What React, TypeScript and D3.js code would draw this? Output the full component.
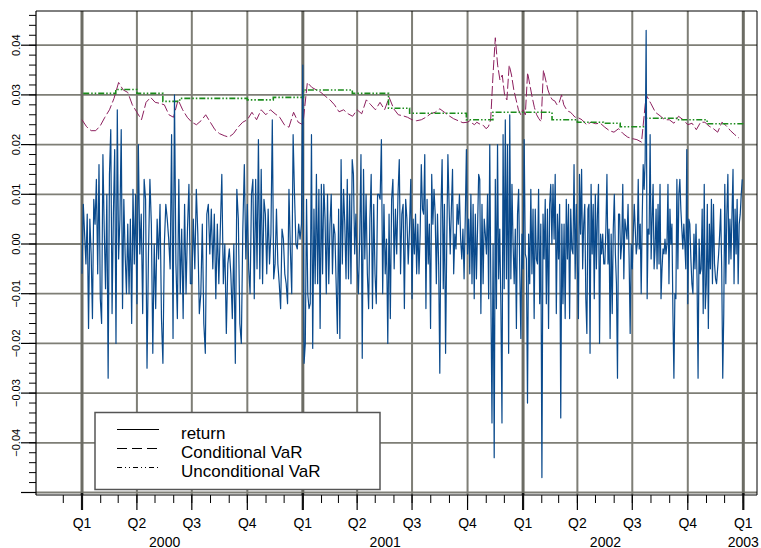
import React from "react";
import * as d3 from "d3";

// ---------- DATA ----------
// daily returns, grouped by quarter (values spread evenly inside each quarter)
const r2000q1 = [-0.006, 0.008, 0.002, -0.004, 0.006, -0.017, 0.005, -0.002, -0.015, 0.009, 0.004, 0.013, -0.006, 0.016, -0.011, -0.016, 0.018, 0.003, -0.009, 0.010, -0.027, 0.014, 0.023, -0.014, 0.006, 0.019, -0.020, 0.027, -0.003, 0.005, 0.023, -0.013, 0.009, -0.002, -0.010, 0.004, -0.010, 0.005, -0.016, 0.011, -0.004, 0.010];
const r2000q2 = [-0.012, 0.020, -0.002, 0.006, -0.014, 0.013, 0.009, -0.025, -0.002, 0.013, 0.004, -0.022, 0.000, -0.013, 0.005, -0.003, 0.008, -0.015, -0.024, 0.000, 0.008, 0.005, 0.001, -0.005, 0.022, -0.019, 0.030, -0.004, -0.015, 0.013, -0.010, 0.003, -0.015, 0.008, -0.010, 0.003, 0.012, -0.008];
const r2000q3 = [-0.008, 0.005, -0.005, 0.011, 0.002, -0.014, -0.010, 0.004, -0.016, -0.022, 0.006, 0.008, -0.002, 0.007, -0.005, 0.006, -0.011, 0.004, -0.008, 0.003, 0.014, -0.008, 0.000, -0.018, -0.004, -0.001, -0.006, -0.015, 0.000, -0.024, 0.011, 0.005, -0.016, -0.020, 0.003, 0.016, -0.003];
const r2000q4 = [0.008, -0.005, -0.010, 0.010, 0.013, -0.011, 0.013, -0.005, 0.021, -0.007, 0.015, -0.008, 0.009, 0.006, -0.006, 0.007, -0.004, 0.002, 0.025, -0.007, -0.004, 0.007, -0.004, -0.008, -0.013, 0.003, 0.001, -0.006, -0.008, -0.012, 0.011, -0.001, -0.010, 0.022, 0.010, 0.000, -0.001, 0.004, 0.001, 0.004];
const r2001q1 = [0.036, -0.024, -0.020, 0.009, -0.010, -0.013, -0.012, 0.022, -0.021, 0.007, -0.008, 0.014, -0.008, 0.011, -0.017, 0.012, -0.006, 0.012, 0.005, -0.010, 0.010, -0.008, 0.004, 0.010, -0.006, 0.004, 0.002, -0.008, -0.018, 0.007, -0.019, 0.017, -0.004, 0.011, 0.004, -0.007, 0.013, -0.007, 0.010, -0.008, 0.017, 0.014, -0.002, 0.006];
const r2001q2 = [-0.004, -0.010, 0.001, 0.018, -0.023, 0.015, -0.003, 0.010, -0.006, -0.013, 0.005, 0.014, -0.013, 0.008, -0.006, -0.012, 0.010, 0.010, 0.009, 0.021, -0.010, 0.008, -0.006, 0.001, -0.020, 0.006, -0.015, 0.009, 0.013, -0.005, 0.007, -0.002, 0.010, 0.017, -0.006, 0.006, 0.008, -0.013, 0.009, 0.005, -0.004, 0.003, 0.013];
const r2001q3 = [-0.011, 0.005, -0.002, 0.006, -0.006, 0.004, -0.006, 0.002, 0.016, 0.007, 0.006, 0.018, -0.013, 0.009, -0.004, 0.004, -0.017, 0.014, 0.004, 0.011, 0.006, -0.008, 0.006, -0.004, -0.026, 0.007, 0.017, -0.009, 0.008, -0.022, 0.000, 0.018, 0.008, -0.002, 0.007, 0.015, -0.006, 0.002, -0.001, 0.008, 0.004, 0.010, 0.001, -0.003, 0.003, -0.007, 0.005, 0.019];
const r2001q4 = [-0.002, 0.005, -0.006, 0.010, -0.008, 0.008, -0.011, 0.006, -0.007, 0.003, 0.014, 0.013, -0.014, 0.008, -0.008, 0.005, 0.002, -0.002, 0.010, -0.011, 0.020, -0.010, -0.036, 0.000, -0.043, 0.013, -0.013, 0.020, -0.007, 0.003, -0.012, -0.036, 0.022, -0.009, 0.025, -0.007, 0.020, -0.022, 0.026, -0.007, 0.012, 0.000, -0.008, 0.003, -0.017, 0.006, 0.011, -0.005, -0.019, 0.002];
const r2002q1 = [-0.005, 0.021, -0.002, -0.003, -0.032, 0.002, -0.008, 0.011, -0.006, 0.007, -0.015, 0.007, -0.003, -0.004, 0.011, -0.012, 0.004, -0.047, 0.006, -0.003, 0.009, -0.012, 0.007, -0.017, 0.008, 0.012, 0.000, 0.012, 0.001, 0.014, -0.014, 0.006, -0.003, 0.008, -0.035, 0.004, -0.012, 0.004, -0.015, 0.009, -0.003, 0.008, -0.015, 0.007, -0.001, -0.002, 0.016, -0.007, 0.008];
const r2002q2 = [-0.004, -0.015, 0.014, 0.002, 0.015, -0.005, 0.004, 0.008, -0.011, -0.018, 0.007, 0.008, -0.022, 0.012, -0.002, 0.008, -0.011, 0.010, -0.005, 0.006, 0.012, -0.020, 0.002, -0.002, 0.002, -0.004, -0.004, 0.003, 0.014, -0.004, 0.003, -0.019, 0.002, -0.014, 0.003, 0.010, -0.002, -0.008, -0.027, 0.006, 0.006, -0.003, 0.000, 0.012, -0.007, 0.005, 0.003, 0.001, 0.008, -0.003, -0.018, 0.000];
const r2002q3 = [-0.005, 0.002, 0.008, 0.003, -0.002, 0.000, 0.013, -0.001, 0.004, -0.010, 0.005, 0.016, 0.011, 0.017, 0.043, -0.011, 0.003, 0.002, 0.022, -0.003, 0.005, 0.012, -0.005, -0.001, 0.007, -0.005, 0.008, -0.004, 0.012, -0.011, -0.005, -0.001, -0.002, 0.001, -0.002, 0.000, 0.012, -0.008, 0.007, 0.000, 0.004, -0.014, -0.027, -0.010, -0.011, 0.013, -0.005, 0.010, 0.013, 0.007, 0.003, -0.001, 0.004, 0.000, -0.005, 0.019];
const r2002q4 = [-0.012, 0.005, 0.004, -0.003, -0.008, -0.010, 0.002, -0.005, 0.004, -0.007, -0.027, 0.001, -0.006, -0.005, 0.007, -0.014, 0.012, -0.013, -0.008, 0.008, -0.017, 0.004, -0.005, 0.009, -0.008, 0.008, -0.004, -0.007, -0.008, -0.005, -0.002, 0.002, 0.007, -0.005, -0.027, -0.014, 0.012, -0.008, 0.006, 0.014, -0.004, 0.005, -0.003, 0.006, 0.015, -0.008, 0.007, -0.002, 0.009, -0.008, 0.004, 0.006, 0.010, 0.013];

// conditional VaR, grouped by quarter
const c2000q1 = [0.0250, 0.0236, 0.0228, 0.0228, 0.0238, 0.0255, 0.0270, 0.0293, 0.0325, 0.0310, 0.0305, 0.0280];
const c2000q2 = [0.0265, 0.0250, 0.0285, 0.0295, 0.0285, 0.0283, 0.0280, 0.0260, 0.0255, 0.0290, 0.0270, 0.0255];
const c2000q3 = [0.0245, 0.0240, 0.0248, 0.0260, 0.0245, 0.0230, 0.0222, 0.0218, 0.0215, 0.0222, 0.0235, 0.0245];
const c2000q4 = [0.0250, 0.0265, 0.0250, 0.0270, 0.0260, 0.0270, 0.0262, 0.0255, 0.0240, 0.0235, 0.0265, 0.0245];
const c2001q1 = [0.0240, 0.0325, 0.0315, 0.0310, 0.0305, 0.0297, 0.0290, 0.0280, 0.0266, 0.0270, 0.0262, 0.0257];
const c2001q2 = [0.0270, 0.0262, 0.0290, 0.0280, 0.0270, 0.0285, 0.0270, 0.0295, 0.0272, 0.0260, 0.0258, 0.0255];
const c2001q3 = [0.0250, 0.0248, 0.0250, 0.0255, 0.0262, 0.0265, 0.0272, 0.0265, 0.0258, 0.0252, 0.0248, 0.0244];
const c2001q4 = [0.0245, 0.0248, 0.0243, 0.0240, 0.0245, 0.0242, 0.0240, 0.0238, 0.0232, 0.0236, 0.0250, 0.0340, 0.0415, 0.0360, 0.0330, 0.0340, 0.0300, 0.0290, 0.0360, 0.0340, 0.0310, 0.0290, 0.0270, 0.0260];
const c2002q1 = [0.0270, 0.0260, 0.0345, 0.0320, 0.0296, 0.0275, 0.0260, 0.0252, 0.0246, 0.0350, 0.0330, 0.0310, 0.0297, 0.0290, 0.0288, 0.0280, 0.0285, 0.0300, 0.0280, 0.0272, 0.0267, 0.0265, 0.0260, 0.0255];
const c2002q2 = [0.0255, 0.0250, 0.0240, 0.0245, 0.0242, 0.0243, 0.0235, 0.0228, 0.0225, 0.0232, 0.0222, 0.0215];
const c2002q3 = [0.0212, 0.0210, 0.0205, 0.0300, 0.0283, 0.0265, 0.0258, 0.0250, 0.0250, 0.0243, 0.0257, 0.0250];
const c2002q4 = [0.0240, 0.0243, 0.0230, 0.0245, 0.0245, 0.0237, 0.0232, 0.0225, 0.0245, 0.0238, 0.0228, 0.0220, 0.0213];

// unconditional VaR: value holds from each date until the next
const uncondDates = ["2000-01-03", "2000-02-26", "2000-04-01", "2000-05-14", "2000-06-11", "2000-10-01", "2000-11-13", "2001-01-02", "2001-03-24", "2001-05-23", "2001-06-27", "2001-09-29", "2001-11-12", "2002-02-18", "2002-04-01", "2002-05-14", "2002-06-11", "2002-07-24", "2002-09-14", "2002-11-02", "2002-12-31"];
const uncondValues = [0.0303, 0.0311, 0.0303, 0.0287, 0.0293, 0.0290, 0.0295, 0.0310, 0.0303, 0.0273, 0.0263, 0.0250, 0.0265, 0.0250, 0.0245, 0.0243, 0.0236, 0.0253, 0.0250, 0.0242, 0.0238];

const quarterLabels = ["Q1", "Q2", "Q3", "Q4"];
const yearLabels = ["2000", "2001", "2002", "2003"];
const yTicks = [-0.05, -0.04, -0.03, -0.02, -0.01, 0.0, 0.01, 0.02, 0.03, 0.04];
const yLabelTicks = [-0.04, -0.03, -0.02, -0.01, 0.0, 0.01, 0.02, 0.03, 0.04];
const legendItems = ["return", "Conditional VaR", "Unconditional VaR"];

const returnQuarters = [r2000q1, r2000q2, r2000q3, r2000q4, r2001q1, r2001q2, r2001q3, r2001q4, r2002q1, r2002q2, r2002q3, r2002q4];
const condQuarters = [c2000q1, c2000q2, c2000q3, c2000q4, c2001q1, c2001q2, c2001q3, c2001q4, c2002q1, c2002q2, c2002q3, c2002q4];

// ---------- LAYOUT ----------
const W = 761, H = 548;
const left = 36, right = 757, top = 11, axisY = 495;
const FONT = "'Liberation Sans', Arial, Helvetica, sans-serif";

const qStart = (k: number) => new Date(Date.UTC(2000 + Math.floor(k / 4), (k % 4) * 3, 1));

function spread(groups: number[][]) {
  const pts: { d: Date; v: number }[] = [];
  groups.forEach((vals, k) => {
    const s = qStart(k).getTime();
    const e = qStart(k + 1).getTime();
    vals.forEach((v, j) => pts.push({ d: new Date(s + (j / vals.length) * (e - s)), v }));
  });
  return pts;
}

export default function App() {
  const x = d3.scaleUtc().domain([new Date(Date.UTC(2000, 0, 1)), new Date(Date.UTC(2003, 0, 1))]).range([82, 743.3]);
  const y = d3.scaleLinear().domain([-0.05, 0.04]).range([492.5, 45.2]);

  const returns = spread(returnQuarters);
  const cond = spread(condQuarters);
  const uncond = uncondDates.map((s, i) => ({ d: new Date(s + "T00:00:00Z"), v: uncondValues[i] }));

  const line = d3.line<{ d: Date; v: number }>().x((p) => x(p.d)).y((p) => y(p.v));
  const stepLine = d3.line<{ d: Date; v: number }>().x((p) => x(p.d)).y((p) => y(p.v)).curve(d3.curveStepAfter);

  const quarters = d3.utcMonth.every(3)!.range(new Date(Date.UTC(2000, 0, 1)), new Date(Date.UTC(2003, 0, 2)));
  const months = d3.utcMonth.range(new Date(Date.UTC(1999, 11, 1)), new Date(Date.UTC(2003, 0, 2)));
  const minorY = d3.range(-25, 24).map((i) => i * 0.002).filter((v) => y(v) >= top + 2);

  const gridColor = "#7e7e76";

  return (
    <svg width={W} height={H} style={{ position: "absolute", left: 0, top: 0, background: "#fff" }} fontFamily={FONT}>
      <rect x={0} y={0} width={W} height={H} fill="#fff" />
      {/* horizontal grid */}
      {yTicks.map((v) => (
        <line key={"hg" + v} x1={left} x2={right} y1={y(v)} y2={y(v)} stroke={gridColor} strokeWidth={1.8} />
      ))}
      {/* vertical grid */}
      {quarters.map((q, i) => {
        const isQ1 = q.getUTCMonth() === 0;
        return (
          <line key={"vg" + i} x1={x(q)} x2={x(q)} y1={top} y2={axisY} stroke={isQ1 ? "#6c6c64" : gridColor} strokeWidth={isQ1 ? 3 : 2} />
        );
      })}
      {/* frame */}
      <line x1={left} x2={right} y1={top} y2={top} stroke="#000" strokeWidth={1} />
      <line x1={right} x2={right} y1={top} y2={axisY} stroke="#000" strokeWidth={1} />
      <line x1={left} x2={left} y1={top} y2={axisY} stroke="#000" strokeWidth={1.2} />
      <line x1={left} x2={right} y1={axisY} y2={axisY} stroke="#000" strokeWidth={1.2} />

      {/* y ticks */}
      {minorY.map((v, i) => (
        <line key={"my" + i} x1={29} x2={left} y1={y(v)} y2={y(v)} stroke="#000" strokeWidth={1} />
      ))}
      {yTicks.map((v) => (
        <line key={"yt" + v} x1={21} x2={left} y1={y(v)} y2={y(v)} stroke="#000" strokeWidth={1.2} />
      ))}
      {yLabelTicks.map((v) => (
        <text key={"yl" + v} transform={`translate(20,${y(v)}) rotate(-90)`} textAnchor="middle" fontSize={11} fill="#000">
          {d3.format(".2f")(v)}
        </text>
      ))}

      {/* x ticks */}
      {months.map((m, i) => (
        <line key={"mx" + i} x1={x(m)} x2={x(m)} y1={axisY} y2={503} stroke="#000" strokeWidth={1} />
      ))}
      {quarters.map((q, i) => {
        const isQ1 = q.getUTCMonth() === 0;
        return (
          <g key={"qx" + i}>
            <line x1={x(q)} x2={x(q)} y1={isQ1 ? axisY - 2 : axisY} y2={510} stroke={isQ1 ? "#111" : "#000"} strokeWidth={isQ1 ? 2.2 : 1.2} />
            <text x={x(q)} y={527.5} textAnchor="middle" fontSize={14} fill="#000">
              {quarterLabels[q.getUTCMonth() / 3]}
            </text>
          </g>
        );
      })}
      {yearLabels.map((yl, i) => {
        const yr = 2000 + i;
        const q1 = new Date(Date.UTC(yr, 0, 1));
        const q4 = new Date(Date.UTC(yr, 9, 1));
        const cx = yr === 2003 ? x(q1) : (x(q1) + x(q4)) / 2;
        return (
          <text key={yl} x={cx} y={546.5} textAnchor="middle" fontSize={14} fill="#000">
            {yl}
          </text>
        );
      })}

      {/* series */}
      <path d={line(cond) || ""} fill="none" stroke="#8c1f5e" strokeWidth={1} strokeDasharray="10 3" />
      <path d={stepLine(uncond) || ""} fill="none" stroke="#1c8c1c" strokeWidth={1.6} strokeDasharray="6 2 1.5 2 1.5 2" />
      <path d={line(returns) || ""} fill="none" stroke="#0a4a8c" strokeWidth={1.2} strokeLinejoin="round" />

      {/* legend */}
      <rect x={95} y={412.5} width={285} height={77} fill="#fff" stroke="#555" strokeWidth={1.5} />
      {legendItems.map((t, i) => (
        <g key={t}>
          <line
            x1={117}
            x2={159}
            y1={429.5 + i * 19}
            y2={429.5 + i * 19}
            stroke="#000"
            strokeWidth={1}
            strokeDasharray={i === 0 ? undefined : i === 1 ? "10 5" : "5 3 1 3 1 3"}
          />
          <text x={181} y={439 + i * 19.2} fontSize={17} fill="#000">
            {t}
          </text>
        </g>
      ))}
    </svg>
  );
}
